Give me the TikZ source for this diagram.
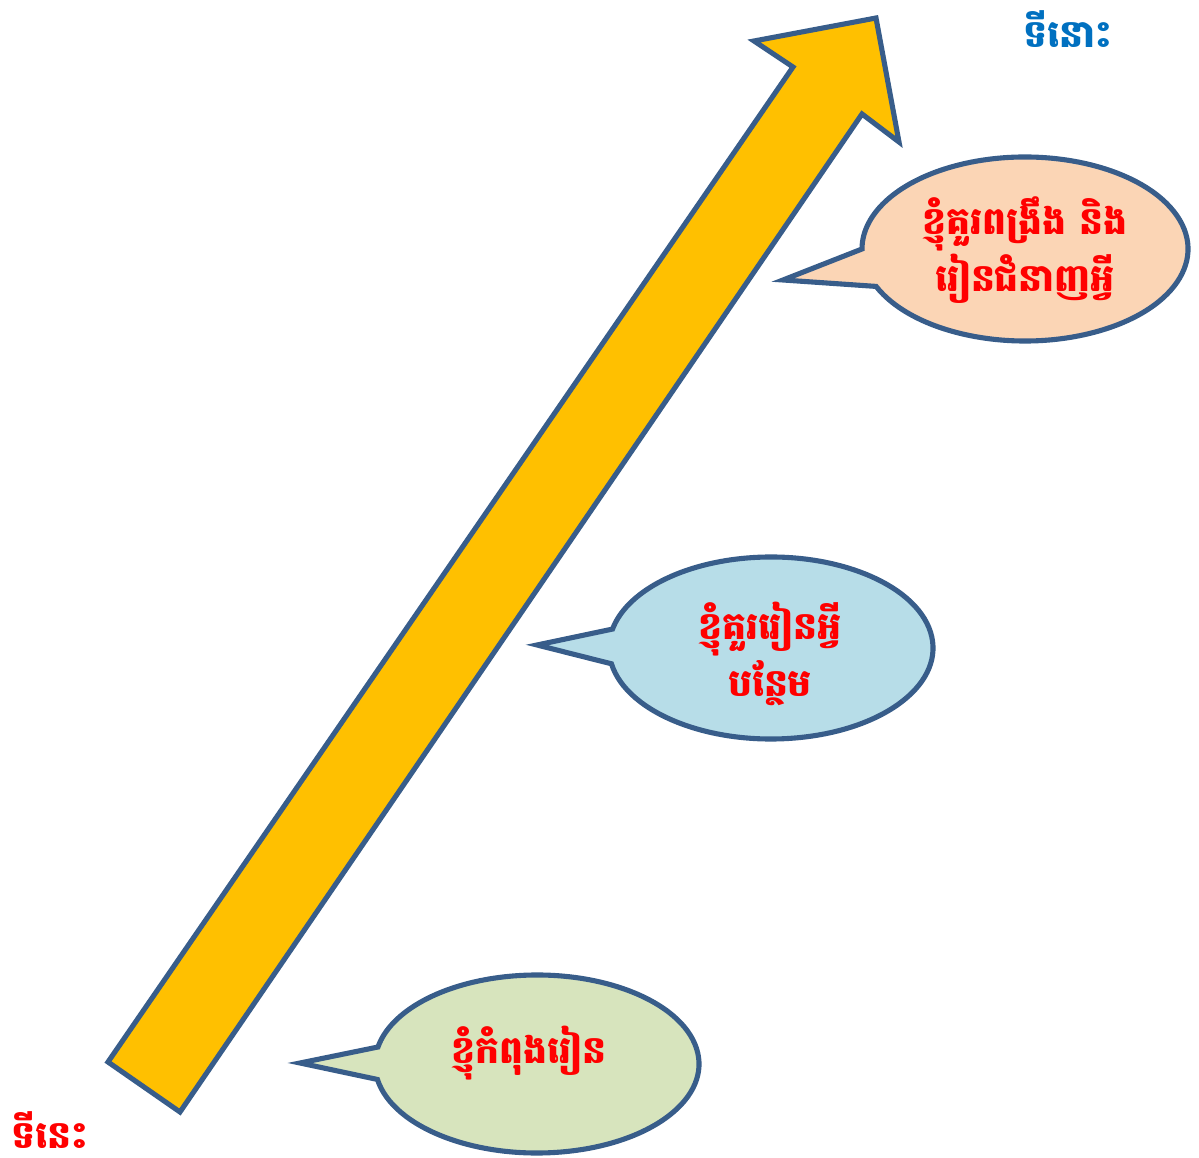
\documentclass[tikz,border=0pt]{standalone}
\usepackage{fontspec}
\newfontfamily\khmer[Script=Khmer]{Battambang}
\usepackage{xcolor}
\definecolor{arrowgold}{HTML}{FFC000}
\definecolor{edgeblue}{HTML}{385D8A}
\definecolor{softpeach}{HTML}{FBD5B5}
\definecolor{softsky}{HTML}{B7DDE8}
\definecolor{softgreen}{HTML}{D7E4BD}
\definecolor{textred}{HTML}{FF0000}
\definecolor{textblue}{HTML}{0070C0}

\begin{document}
\begin{tikzpicture}[every node/.style={font=\khmer\bfseries\fontsize{21.5}{32}\selectfont}]
        \useasboundingbox (0,0) rectangle (23.98,23.14);

        % Grande flèche : de "ici" (en bas) vers "là-bas" (en haut).
        \draw[fill=arrowgold,draw=edgeblue,line width=2.9pt,line join=miter]
          (2.16,1.90) -- (15.86,21.80) -- (15.08,22.32) -- (17.52,22.78)
          -- (17.98,20.30) -- (17.24,20.86) -- (3.60,0.90) -- cycle;

        % Bulles : centre / rayons / angles de la pointe / pointe / couleur
        \foreach \c/\rx/\ry/\lo/\up/\tip/\col in
          {{(20.50,18.16)}/3.26/1.84/-156/180/{(15.66,17.54)}/softpeach,
           {(15.42,10.18)}/3.24/1.82/-170/168/{(10.74,10.24)}/softsky,
           {(10.74,1.86)}/3.24/1.78/-170/169/{(6.00,1.88)}/softgreen} {
          \draw[fill=\col,draw=edgeblue,line width=2.9pt,line join=miter]
            \c ++({\rx*cos(\lo)},{\ry*sin(\lo)})
            arc[start angle=\lo, end angle=\up, x radius=\rx, y radius=\ry]
            -- \tip -- cycle;
        }

        \node[textred,align=center] (skills) at (20.50,18.14) {ខ្ញុំគួរពង្រឹង និង\\រៀនជំនាញអ្វី};
        \node[textred,align=center] (more) at (15.40,10.06) {ខ្ញុំគួររៀនអ្វី\\បន្ថែម};
        \node[textred] (now) at (10.58,2.08) {ខ្ញុំកំពុងរៀន};

        \node[textblue] (there) at (21.36,22.56) {ទីនោះ};
        \node[textred,inner sep=0pt,text depth=0pt,anchor=base] (here) at (1.00,0.18) {ទីនេះ};
      \end{tikzpicture}
\end{document}
